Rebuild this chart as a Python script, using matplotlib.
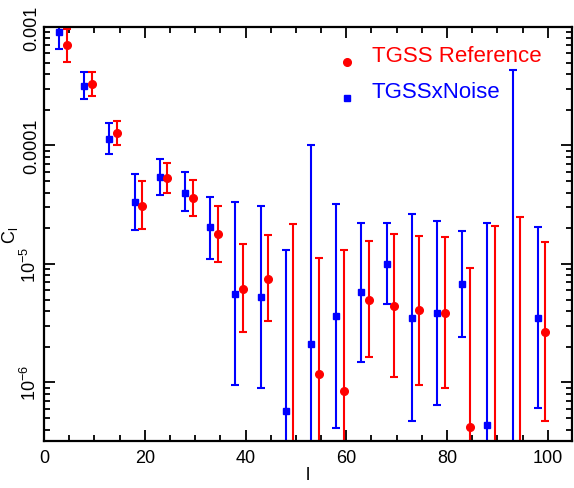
import matplotlib.pyplot as plt
import numpy as np

plt.rcParams['font.family'] = ['Liberation Sans', 'DejaVu Sans']
plt.rcParams['mathtext.fontset'] = 'custom'
plt.rcParams['mathtext.rm'] = 'Liberation Sans'

# ---- data ----
# values below the plotted range (off the bottom of the axis) are given as 1e-7
l_noise = [3, 8, 13, 18, 23, 28, 33, 38, 43, 48, 53, 58, 63, 68, 73, 78, 83, 88, 93, 98]
cl_noise = [9.0e-4, 3.2e-4, 1.14e-4, 3.3e-5, 5.4e-5, 4.0e-5, 2.04e-5, 5.6e-6, 5.25e-6, 5.7e-7,
            2.1e-6, 3.6e-6, 5.8e-6, 1.0e-5, 3.5e-6, 3.85e-6, 6.8e-6, 4.35e-7, 1e-7, 3.5e-6]
hi_noise = [1.05e-3, 4.2e-4, 1.55e-4, 5.7e-5, 7.7e-5, 6.0e-5, 3.7e-5, 3.3e-5, 3.1e-5, 1.31e-5,
            1.0e-4, 3.2e-5, 2.22e-5, 2.2e-5, 2.65e-5, 2.32e-5, 1.9e-5, 2.2e-5, 4.35e-4, 2.03e-5]
lo_noise = [6.5e-4, 2.46e-4, 8.5e-5, 1.92e-5, 3.8e-5, 2.8e-5, 1.11e-5, 9.5e-7, 9.0e-7, 1e-8,
            1e-8, 4.15e-7, 1.5e-6, 4.6e-6, 4.7e-7, 6.5e-7, 2.4e-6, 1e-8, 1e-8, 6.1e-7]

l_ref = [4.5, 9.5, 14.5, 19.5, 24.5, 29.5, 34.5, 39.5, 44.5, 49.5,
         54.5, 59.5, 64.5, 69.5, 74.5, 79.5, 84.5, 89.5, 94.5, 99.5]
cl_ref = [7.0e-4, 3.33e-4, 1.27e-4, 3.1e-5, 5.3e-5, 3.6e-5, 1.79e-5, 6.2e-6, 7.5e-6, 1e-7,
          1.17e-6, 8.4e-7, 5.0e-6, 4.45e-6, 4.05e-6, 3.85e-6, 4.2e-7, 1e-7, 1e-7, 2.65e-6]
hi_ref = [9.7e-4, 4.2e-4, 1.61e-4, 5.0e-5, 7.1e-5, 5.1e-5, 3.06e-5, 1.46e-5, 1.75e-5, 2.16e-5,
          1.13e-5, 1.32e-5, 1.57e-5, 1.79e-5, 1.73e-5, 1.68e-5, 9.2e-6, 2.08e-5, 2.47e-5, 1.54e-5]
lo_ref = [5.1e-4, 2.63e-4, 1.0e-4, 1.96e-5, 3.94e-5, 2.52e-5, 1.04e-5, 2.65e-6, 3.3e-6, 1e-8,
          1e-8, 1e-8, 1.63e-6, 1.11e-6, 9.5e-7, 8.9e-7, 1e-8, 1e-8, 1e-8, 4.7e-7]

yticks = [1e-6, 1e-5, 1e-4, 1e-3]
yticklabels = ['$\\mathregular{10^{-6}}$', '$\\mathregular{10^{-5}}$', '0.0001', '0.001']
xticks = [0, 20, 40, 60, 80, 100]

# ---- figure ----
fig = plt.figure(figsize=(5.74, 4.89), dpi=100)
ax = fig.add_axes([44 / 574, 1 - 442 / 489, 528 / 574, 414 / 489])
ax.set_yscale('log')

def draw(l, cl, lo, hi, color, marker, ms):
    cl = np.array(cl)
    yerr = [cl - np.array(lo), np.array(hi) - cl]
    ax.errorbar(l, cl, yerr=yerr, fmt=marker, color=color, ms=ms, mec=color,
                elinewidth=1.5, capsize=3, capthick=1.5)

draw(l_noise, cl_noise, lo_noise, hi_noise, 'blue', 's', 4.2)
draw(l_ref, cl_ref, lo_ref, hi_ref, 'red', 'o', 5.5)

ax.set_xlim(0, 104.8)
ax.set_ylim(3.2e-7, 1e-3)

ax.set_xticks(xticks)
ax.set_xticks(np.arange(0, 105, 5), minor=True)
ax.set_yticks(yticks)
ax.set_yticklabels(yticklabels, rotation=90, va='center')
ax.tick_params(which='both', direction='in', top=True, right=True, width=1.3, labelsize=13)
ax.tick_params(which='major', length=8)
ax.tick_params(which='minor', length=4)
ax.tick_params(axis='x', pad=6)
ax.tick_params(axis='y', pad=3)
for s in ax.spines.values():
    s.set_linewidth(1.6)

ax.set_xlabel('l', fontsize=13, labelpad=0)
ax.set_ylabel('$\\mathregular{C_l}$', fontsize=13)
ax.yaxis.set_label_coords(-0.045, 0.5)

# legend, drawn in the IDL style
ax.plot(0.573, 0.915, 'o', color='red', ms=5.5, transform=ax.transAxes)
ax.text(0.621, 0.931, 'TGSS Reference', color='red', fontsize=16,
        va='center', ha='left', transform=ax.transAxes)
ax.plot(0.573, 0.8285, 's', color='blue', ms=4.2, transform=ax.transAxes)
ax.text(0.621, 0.844, 'TGSSxNoise', color='blue', fontsize=16,
        va='center', ha='left', transform=ax.transAxes)

plt.savefig('out.png', dpi=100)
